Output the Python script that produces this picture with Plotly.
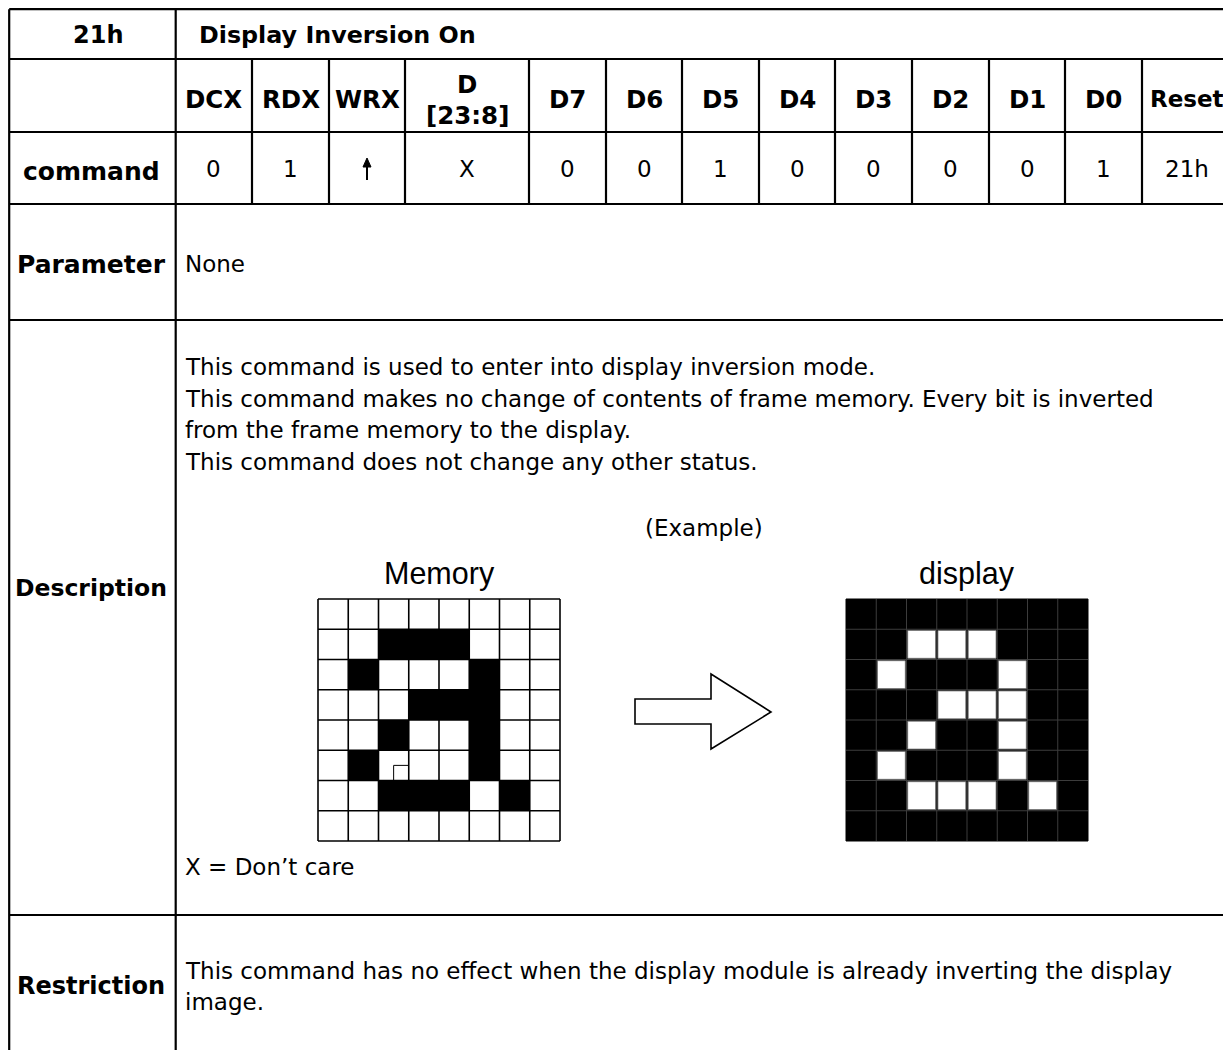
import plotly.graph_objects as go

# ---------------- data ----------------
cmd_code = "21h"
cmd_name = "Display Inversion On"
header_labels = ["DCX", "RDX", "WRX", "D|[23:8]", "D7", "D6", "D5", "D4", "D3", "D2", "D1", "D0", "Reset"]
command_values = ["0", "1", "UP", "X", "0", "0", "1", "0", "0", "0", "0", "1", "21h"]
row_labels = ["command", "Parameter", "Description", "Restriction"]
parameter_text = "None"
description_lines = [
    "This command is used to enter into display inversion mode.",
    "This command makes no change of contents of frame memory. Every bit is inverted",
    "from the frame memory to the display.",
    "This command does not change any other status.",
]
example_label = "(Example)"
memory_label = "Memory"
display_label = "display"
dont_care_text = "X = Don\u2019t care"
restriction_lines = [
    "This command has no effect when the display module is already inverting the display",
    "image.",
]
memory_bits = [
    [0, 0, 0, 0, 0, 0, 0, 0],
    [0, 0, 1, 1, 1, 0, 0, 0],
    [0, 1, 0, 0, 0, 1, 0, 0],
    [0, 0, 0, 1, 1, 1, 0, 0],
    [0, 0, 1, 0, 0, 1, 0, 0],
    [0, 1, 0, 0, 0, 1, 0, 0],
    [0, 0, 1, 1, 1, 0, 1, 0],
    [0, 0, 0, 0, 0, 0, 0, 0],
]

# ---------------- layout constants ----------------
# page body has an 8px margin: figure is placed at (8,8), so data coords = page pixels
OFF = 8
W, H = 1231, 1050
COLS = [9.2, 175.7, 252, 329, 405, 529, 606, 682, 759, 835, 912, 989, 1065, 1142, 1240]
ROWS = [9.2, 59, 132, 204, 320, 915, 1060]
FONT = "DejaVu Sans, Verdana, sans-serif"
FS = 23
TXT_X = 183

shapes = []
annotations = []


def line(x0, y0, x1, y1, w=2.2, c="black"):
    shapes.append(dict(type="line", xref="x", yref="y", x0=x0, y0=y0, x1=x1, y1=y1,
                       line=dict(color=c, width=w)))


def text(x, y, s, bold=False, size=FS, anchor="center", font=None):
    annotations.append(dict(x=x, y=y, xref="x", yref="y", text=("<b>%s</b>" % s) if bold else s,
                            showarrow=False, xanchor=anchor, yanchor="middle",
                            font=dict(family=font or FONT, size=size, color="black")))


# table lines
for y in ROWS[:-1]:
    line(COLS[0], y, COLS[-1], y)
line(COLS[0], ROWS[0], COLS[0], ROWS[-1])
line(COLS[1], ROWS[0], COLS[1], ROWS[-1])
for x in COLS[2:-1]:
    line(x, ROWS[1], x, ROWS[3])

# header row
text(98, 35, cmd_code, bold=True, size=24)
text(197, 35, cmd_name, bold=True, size=23.8, anchor="left")

# column headers and command values
for i, lab in enumerate(header_labels):
    cx = (COLS[i + 1] + COLS[i + 2]) / 2
    if i == len(header_labels) - 1:
        cx = COLS[i + 1] + 45
    if "|" in lab:
        a, b = lab.split("|")
        text(cx, 84, a, bold=True, size=24.5)
        text(cx, 115, b, bold=True, size=24.5)
    elif lab == "Reset":
        text(cx, 99, lab, bold=True, size=23)
    else:
        text(cx, 99, lab, bold=True, size=24.5)
    v = command_values[i]
    vy = 169
    if v == "UP":
        shapes.append(dict(type="line", xref="x", yref="y", x0=cx, x1=cx, y0=vy + 11, y1=vy - 3,
                           line=dict(color="black", width=2)))
        shapes.append(dict(type="path", xref="x", yref="y",
                           path="M %f %f L %f %f L %f %f Z" % (cx - 4, vy - 2, cx, vy - 11, cx + 4, vy - 2),
                           fillcolor="black", line=dict(color="black", width=1)))
    else:
        text(cx, vy, v)

# row labels
label_y = [171, 264, 588, 986]
label_size = [25, 25, 23.5, 24]
for lab, y, sz in zip(row_labels, label_y, label_size):
    text(91, y, lab, bold=True, size=sz)

text(TXT_X, 264, parameter_text, anchor="left")

for i, s in enumerate(description_lines):
    text(TXT_X, 367 + i * 31.7, s, anchor="left")
text(704, 528, example_label)

for i, s in enumerate(restriction_lines):
    text(TXT_X, 971 + i * 31, s, anchor="left")

text(TXT_X, 867, dont_care_text, anchor="left")

# memory grid
GX_M, GX_D, GY, CELL = 318, 846, 599, 30.25
text(GX_M + 4 * CELL, 573, memory_label, font="Liberation Sans, Arial, sans-serif", size=30.5)
text(GX_D + 4 * CELL, 573, display_label, font="Liberation Sans, Arial, sans-serif", size=30.5)

for r, row in enumerate(memory_bits):
    for c, b in enumerate(row):
        if b:
            shapes.append(dict(type="rect", xref="x", yref="y",
                               x0=GX_M + c * CELL, x1=GX_M + (c + 1) * CELL,
                               y0=GY + r * CELL, y1=GY + (r + 1) * CELL,
                               fillcolor="black", line=dict(width=0)))
for k in range(9):
    line(GX_M + k * CELL, GY, GX_M + k * CELL, GY + 8 * CELL, w=1.6)
    line(GX_M, GY + k * CELL, GX_M + 8 * CELL, GY + k * CELL, w=1.6)
# small marker inside memory cell (row 5, col 2)
mx0, my0 = GX_M + 2 * CELL, GY + 5 * CELL
shapes.append(dict(type="path", xref="x", yref="y",
                   path="M %f %f L %f %f L %f %f" % (mx0 + CELL / 2, my0 + CELL, mx0 + CELL / 2, my0 + CELL / 2,
                                                      mx0 + CELL, my0 + CELL / 2),
                   line=dict(color="black", width=1)))

# display grid (inverted memory)
shapes.append(dict(type="rect", xref="x", yref="y", x0=GX_D, x1=GX_D + 8 * CELL, y0=GY, y1=GY + 8 * CELL,
                   fillcolor="black", line=dict(color="black", width=1)))
for k in range(1, 8):
    line(GX_D + k * CELL, GY, GX_D + k * CELL, GY + 8 * CELL, w=1, c="#3c3c3c")
    line(GX_D, GY + k * CELL, GX_D + 8 * CELL, GY + k * CELL, w=1, c="#3c3c3c")
for r, row in enumerate(memory_bits):
    for c, b in enumerate(row):
        inv = 1 - b
        if inv == 0:  # bits set in memory appear white on the inverted display
            shapes.append(dict(type="rect", xref="x", yref="y",
                               x0=GX_D + c * CELL + 1.2, x1=GX_D + (c + 1) * CELL - 1.2,
                               y0=GY + r * CELL + 1.2, y1=GY + (r + 1) * CELL - 1.2,
                               fillcolor="white", line=dict(color="#777777", width=0.8)))

# big outline arrow
shapes.append(dict(type="path", xref="x", yref="y",
                   path="M 635 699 L 711 699 L 711 674 L 771 712 L 711 749 L 711 724 L 635 724 Z",
                   fillcolor="white", line=dict(color="black", width=1.6)))

fig = go.Figure()
fig.add_trace(go.Scatter(x=[OFF, W], y=[OFF, H], mode="markers", marker=dict(opacity=0), hoverinfo="skip",
                         showlegend=False))
fig.update_layout(
    width=W - OFF, height=H - OFF, margin=dict(l=0, r=0, t=0, b=0, pad=0),
    paper_bgcolor="white", plot_bgcolor="white",
    xaxis=dict(range=[OFF, W], visible=False, fixedrange=True),
    yaxis=dict(range=[H, OFF], visible=False, fixedrange=True),
    shapes=shapes, annotations=annotations, showlegend=False,
)
fig.write_html("out.html")
